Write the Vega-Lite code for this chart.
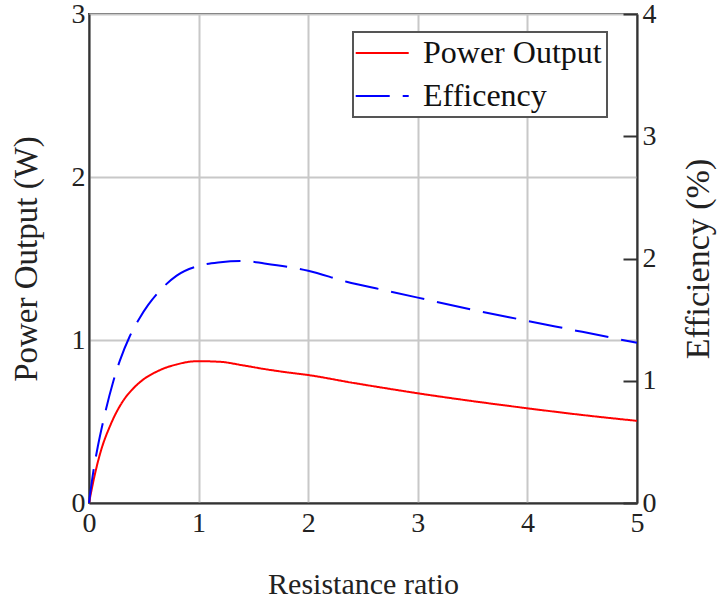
{
  "$schema": "https://vega.github.io/schema/vega-lite/v6.json",
  "width": 548,
  "height": 489,
  "autosize": "none",
  "padding": {"left": 89, "top": 14, "right": 83, "bottom": 104},
  "background": "white",
  "config": {
    "font": "Liberation Serif",
    "view": {"stroke": "#444", "strokeWidth": 2},
    "axis": {"titleFontWeight": "normal", "titleFont": "Liberation Serif", "labelFont": "Liberation Serif", "titleColor": "#222", "labelColor": "#222"},
    "legend": {"strokeWidth": 2}
  },
  "data": {
    "values": [
      {"ratio": 0, "series": "Power Output", "value": 0},
      {"ratio": 0.05, "series": "Power Output", "value": 0.165},
      {"ratio": 0.1, "series": "Power Output", "value": 0.3},
      {"ratio": 0.2, "series": "Power Output", "value": 0.485},
      {"ratio": 0.3, "series": "Power Output", "value": 0.615},
      {"ratio": 0.4, "series": "Power Output", "value": 0.7},
      {"ratio": 0.5, "series": "Power Output", "value": 0.76},
      {"ratio": 0.6, "series": "Power Output", "value": 0.8},
      {"ratio": 0.7, "series": "Power Output", "value": 0.83},
      {"ratio": 0.8, "series": "Power Output", "value": 0.85},
      {"ratio": 0.9, "series": "Power Output", "value": 0.865},
      {"ratio": 1.0, "series": "Power Output", "value": 0.87},
      {"ratio": 1.2, "series": "Power Output", "value": 0.866},
      {"ratio": 1.4, "series": "Power Output", "value": 0.845},
      {"ratio": 1.6, "series": "Power Output", "value": 0.822},
      {"ratio": 1.8, "series": "Power Output", "value": 0.802},
      {"ratio": 2.0, "series": "Power Output", "value": 0.785},
      {"ratio": 2.4, "series": "Power Output", "value": 0.738},
      {"ratio": 2.7, "series": "Power Output", "value": 0.705},
      {"ratio": 3.0, "series": "Power Output", "value": 0.673},
      {"ratio": 3.5, "series": "Power Output", "value": 0.625},
      {"ratio": 4.0, "series": "Power Output", "value": 0.581},
      {"ratio": 4.5, "series": "Power Output", "value": 0.54},
      {"ratio": 5.0, "series": "Power Output", "value": 0.504},
      {"ratio": 0, "series": "Efficency", "value": 0},
      {"ratio": 0.04, "series": "Efficency", "value": 0.26},
      {"ratio": 0.08, "series": "Efficency", "value": 0.46},
      {"ratio": 0.13, "series": "Efficency", "value": 0.67},
      {"ratio": 0.22, "series": "Efficency", "value": 0.99},
      {"ratio": 0.28, "series": "Efficency", "value": 1.16},
      {"ratio": 0.37, "series": "Efficency", "value": 1.36},
      {"ratio": 0.46, "series": "Efficency", "value": 1.51},
      {"ratio": 0.54, "series": "Efficency", "value": 1.62},
      {"ratio": 0.65, "series": "Efficency", "value": 1.74},
      {"ratio": 0.8, "series": "Efficency", "value": 1.86},
      {"ratio": 1.0, "series": "Efficency", "value": 1.94},
      {"ratio": 1.2, "series": "Efficency", "value": 1.97},
      {"ratio": 1.4, "series": "Efficency", "value": 1.98},
      {"ratio": 1.6, "series": "Efficency", "value": 1.96},
      {"ratio": 2.0, "series": "Efficency", "value": 1.9},
      {"ratio": 2.35, "series": "Efficency", "value": 1.81},
      {"ratio": 2.7, "series": "Efficency", "value": 1.74},
      {"ratio": 3.0, "series": "Efficency", "value": 1.68},
      {"ratio": 3.5, "series": "Efficency", "value": 1.58},
      {"ratio": 4.0, "series": "Efficency", "value": 1.49},
      {"ratio": 4.5, "series": "Efficency", "value": 1.4},
      {"ratio": 5.0, "series": "Efficency", "value": 1.31}
    ]
  },
  "encoding": {
    "x": {
      "field": "ratio",
      "type": "quantitative",
      "scale": {"domain": [0, 5], "nice": false},
      "axis": {
        "title": "Resistance ratio",
        "values": [0, 1, 2, 3, 4, 5],
        "grid": true,
        "gridColor": "#c8c8c8",
        "gridWidth": 2,
        "domainColor": "#333",
        "domainWidth": 2,
        "ticks": false,
        "labelFontSize": 28,
        "labelPadding": 6,
        "labelDx": 5,
        "labelFlush": false,
        "titleFontSize": 30,
        "titlePadding": 32
      }
    },
    "color": {
      "field": "series",
      "type": "nominal",
      "scale": {"domain": ["Power Output", "Efficency"], "range": ["#ff0000", "#0000ff"]},
      "legend": {
        "title": null,
        "orient": "none",
        "legendX": 264,
        "legendY": 18,
        "strokeColor": "#555",
        "fillColor": "white",
        "padding": 5,
        "symbolType": "M-1.38,0H2.62",
        "symbolSize": 702,
        "symbolStrokeWidth": 2,
        "labelFontSize": 32,
        "labelFont": "Liberation Serif",
        "labelColor": "#111",
        "labelOffset": 33,
        "labelLimit": 400,
        "rowPadding": 11
      }
    },
    "strokeDash": {
      "field": "series",
      "type": "nominal",
      "scale": {"domain": ["Power Output", "Efficency"], "range": [[1, 0], [34, 13]]},
      "legend": {
        "title": null,
        "orient": "none",
        "legendX": 264,
        "legendY": 18
      }
    }
  },
  "layer": [
    {
      "transform": [{"filter": "datum.series === 'Power Output'"}],
      "mark": {"type": "line", "strokeWidth": 2, "interpolate": "monotone"},
      "encoding": {
        "y": {
          "field": "value",
          "type": "quantitative",
          "scale": {"domain": [0, 3], "nice": false},
          "axis": {
            "title": "Power Output (W)",
            "orient": "left",
            "values": [0, 1, 2, 3],
            "grid": true,
            "gridColor": "#c8c8c8",
            "gridWidth": 2,
            "domainColor": "#333",
            "domainWidth": 2,
            "ticks": false,
            "labelFontSize": 28,
            "labelPadding": 4,
            "labelDy": 3,
            "labelFlush": false,
            "titleFontSize": 33,
            "titlePadding": 28
          }
        }
      }
    },
    {
      "transform": [{"filter": "datum.series === 'Efficency'"}],
      "mark": {"type": "line", "strokeWidth": 2, "interpolate": "monotone"},
      "encoding": {
        "y": {
          "field": "value",
          "type": "quantitative",
          "scale": {"domain": [0, 4], "nice": false},
          "axis": {
            "title": "Efficiency (%)",
            "orient": "right",
            "values": [0, 1, 2, 3, 4],
            "grid": false,
            "domainColor": "#333",
            "domainWidth": 2,
            "ticks": true,
            "tickSize": -14,
            "tickWidth": 2,
            "tickColor": "#333",
            "labelFontSize": 28,
            "labelPadding": 19,
            "labelBaseline": "middle",
            "labelDy": 4,
            "labelFlush": false,
            "titleFontSize": 34,
            "titleAngle": 270,
            "titlePadding": 59
          }
        }
      }
    }
  ],
  "resolve": {"scale": {"y": "independent"}}
}
